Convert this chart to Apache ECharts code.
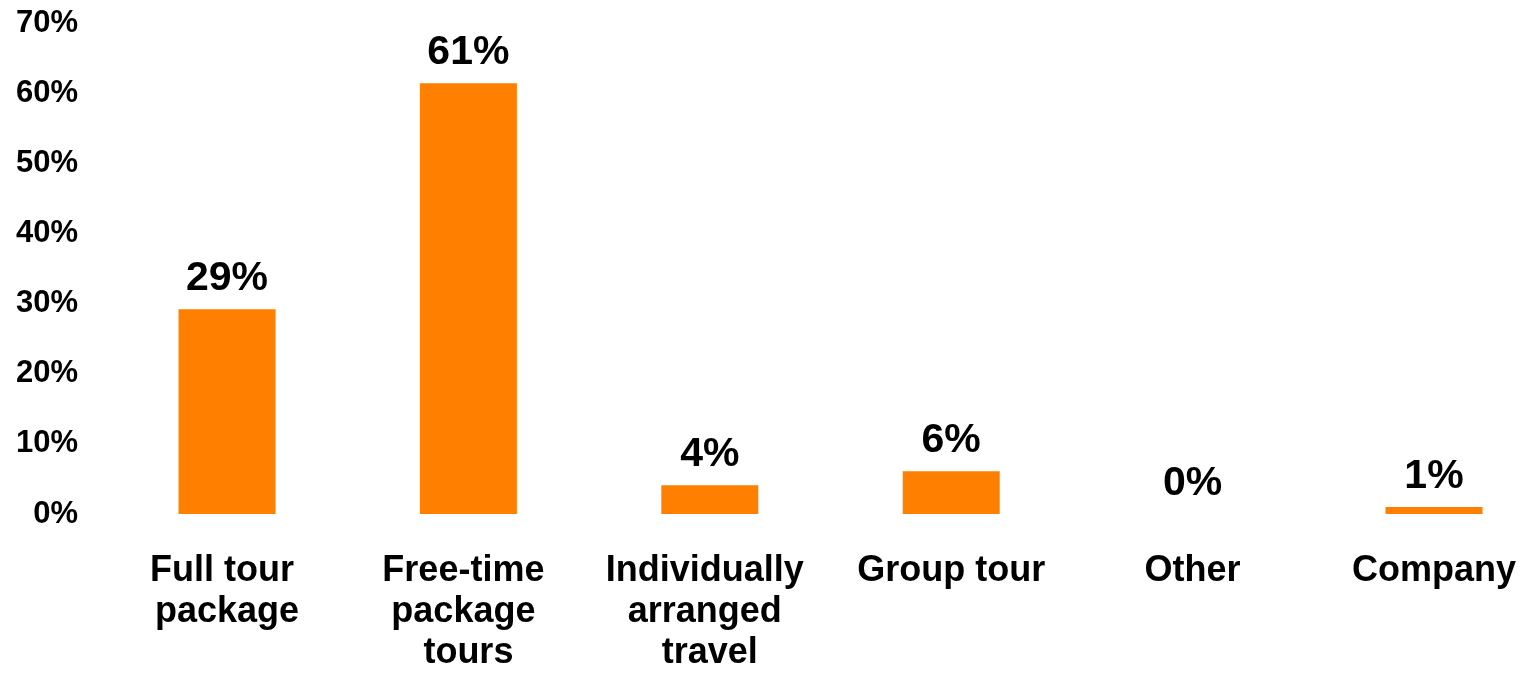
<!DOCTYPE html>
<html>
<head>
<meta charset="utf-8">
<script src="https://cdn.jsdelivr.net/npm/echarts@6/dist/echarts.min.js"></script>
<style>
html,body{margin:0;padding:0;background:#fff;}
#chart{width:1526px;height:677px;}
</style>
</head>
<body>
<div id="chart"></div>
<script>
const categories = ['Full tour package', 'Free-time package tours', 'Individually arranged travel', 'Group tour', 'Other', 'Company'];
const shares = [29.2, 61.4, 4.1, 6.1, 0, 1.0];
const yTicks = [0, 10, 20, 30, 40, 50, 60, 70];

const FONT = '"Liberation Sans", Arial, sans-serif';
const chart = echarts.init(document.getElementById('chart'));
chart.setOption({
  animation: false,
  backgroundColor: '#ffffff',
  grid: { left: 227, top: 23, width: 1207, height: 491, containLabel: false, outerBoundsMode: 'none' },
  xAxis: {
    type: 'category',
    data: categories,
    boundaryGap: false,
    axisLine: { show: false },
    axisTick: { show: false },
    axisLabel: {
      interval: 0,
      margin: 37,
      color: '#000',
      fontFamily: FONT,
      fontWeight: 'bold',
      fontSize: 36,
      lineHeight: 41,
      width: 215,
      overflow: 'break',
      align: 'center'
    }
  },
  yAxis: {
    type: 'value',
    min: yTicks[0],
    max: yTicks[yTicks.length - 1],
    interval: 10,
    axisLine: { show: false },
    axisTick: { show: false },
    splitLine: { show: false },
    axisLabel: {
      margin: 149,
      padding: [6, 0, 0, 0],
      color: '#000',
      fontFamily: FONT,
      fontWeight: 'bold',
      fontSize: 31,
      formatter: '{value}%'
    }
  },
  series: [{
    type: 'bar',
    data: shares,
    barWidth: 97,
    itemStyle: { color: '#FF8000' },
    label: {
      show: true,
      position: 'top',
      distance: 10,
      color: '#000',
      fontFamily: FONT,
      fontWeight: 'bold',
      fontSize: 41,
      formatter: p => Math.round(p.value) + '%'
    }
  }]
});
</script>
</body>
</html>
